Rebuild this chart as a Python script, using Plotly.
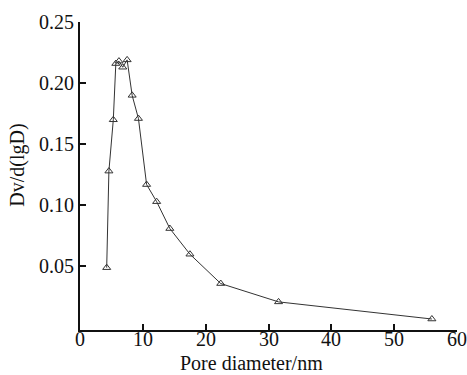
import plotly.graph_objects as go

pore_diameter = [4.25, 4.6, 5.3, 5.7, 6.2, 6.8, 7.5, 8.3, 9.3, 10.6, 12.2, 14.3, 17.5, 22.4, 31.6, 56.0]
dv_dlgd = [0.049, 0.128, 0.170, 0.216, 0.218, 0.213, 0.219, 0.190, 0.171, 0.117, 0.103, 0.081, 0.060, 0.036, 0.021, 0.007]

y_ticks = [0.05, 0.10, 0.15, 0.20, 0.25]
x_ticks = [0, 10, 20, 30, 40, 50, 60]

x_title = "Pore diameter/nm"
y_title = "Dv/d(lgD)"

family = "'Liberation Serif', 'DejaVu Serif', serif"
tick_font = dict(family=family, size=20, color="#111")
title_font = dict(family=family, size=20, color="#111")

fig = go.Figure()
fig.add_trace(go.Scatter(
    x=pore_diameter, y=dv_dlgd, mode="lines+markers",
    line=dict(color="#333", width=1),
    marker=dict(symbol="triangle-up-open", size=7, color="#333", line=dict(width=1)),
    showlegend=False,
))

annotations = [
    dict(text=str(v), x=v, xref="x", yref="paper", y=-0.029,
         xanchor="center", yanchor="middle", showarrow=False, font=tick_font)
    for v in x_ticks
]
annotations += [
    dict(text=x_title, xref="paper", yref="paper", x=0.455, y=-0.149,
         xanchor="center", yanchor="bottom", showarrow=False, font=title_font),
    dict(text=y_title, xref="paper", yref="paper", x=-0.165, y=0.536,
         xanchor="center", yanchor="middle", textangle=-90, showarrow=False, font=title_font),
]

fig.update_layout(
    width=467, height=375,
    margin=dict(l=80, r=10, t=22, b=45),
    paper_bgcolor="white", plot_bgcolor="white",
    font=tick_font,
    xaxis=dict(
        range=[0, 60], tickvals=x_ticks, showticklabels=False,
        ticks="inside", ticklen=6, tickwidth=1.5, tickcolor="#111",
        showline=True, linecolor="#111", linewidth=2, showgrid=False, zeroline=False,
        automargin=False,
    ),
    yaxis=dict(
        range=[-0.002, 0.25], tickvals=y_ticks, ticktext=[f"{v:.2f}" for v in y_ticks],
        ticks="inside", ticklen=6, tickwidth=1.5, tickcolor="#111",
        showline=True, linecolor="#111", linewidth=2, showgrid=False, zeroline=False,
        tickfont=tick_font, automargin=False,
    ),
    annotations=annotations,
)

fig.write_html("out.html")
